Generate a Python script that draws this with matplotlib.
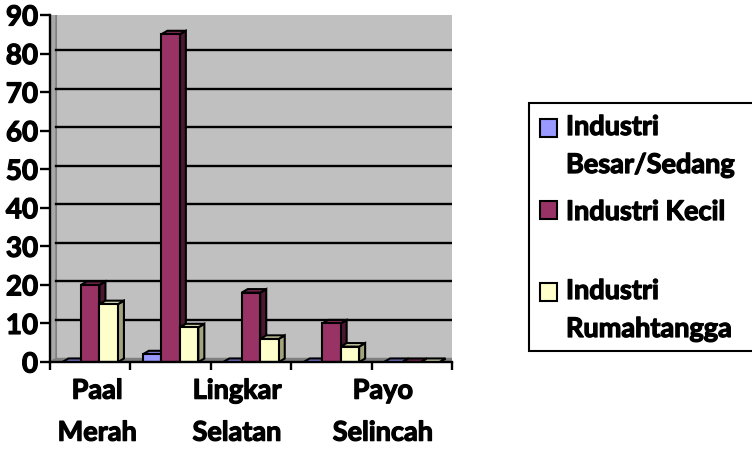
import matplotlib
matplotlib.use("Agg")
import matplotlib.pyplot as plt
from matplotlib import font_manager as fm
from matplotlib import patheffects as pe
from matplotlib.patches import Polygon, Rectangle
from matplotlib.transforms import IdentityTransform, ScaledTranslation
from matplotlib.lines import Line2D

# ---------------- data ----------------
categories = ["Paal Merah", "Talang Bakung", "Lingkar Selatan", "Eka Jaya", "Payo Selincah"]
tick_labels = ["Paal\nMerah", "", "Lingkar\nSelatan", "", "Payo\nSelincah"]
series_names = ["Industri\nBesar/Sedang", "Industri Kecil", "Industri\nRumahtangga"]
besar = [0, 2, 0, 0, 0]
kecil = [20, 85, 18, 10, 0]
rumah = [15, 9, 6, 4, 0]
yticks = list(range(0, 91, 10))

series = [besar, kecil, rumah]
front_c = ["#9999FF", "#993366", "#FFFFCC"]
side_c = ["#5f5fa8", "#4a1830", "#a3a37e"]
top_c = ["#7d7dd6", "#7a2952", "#d6d6aa"]

FS = 19.5
font_path = None
for fam in ["Lato", "Open Sans", "Noto Sans", "Liberation Sans"]:
    cands = [f for f in fm.fontManager.ttflist
             if f.name == fam and f.style == "normal"
             and (f.weight == 700 or f.weight == "bold")]
    cands.sort(key=lambda f: ("semi" in f.fname.lower() or "medium" in f.fname.lower(),
                              "bold" not in f.fname.lower()))
    if cands:
        font_path = cands[0].fname
        break

def fp(size):
    if font_path:
        return fm.FontProperties(fname=font_path, size=size)
    return fm.FontProperties(family="DejaVu Sans", weight="bold", size=size)

THICK = [pe.withStroke(linewidth=0.9, foreground="black")]

W, H = 752, 452
fig = plt.figure(figsize=(W / 100, H / 100), dpi=100)
L, R, B, T = 50, 452, 363, 16
ax = fig.add_axes([L / W, 1 - B / H, (R - L) / W, (B - T) / H])
ax.set_xlim(-0.5, 4.5)
ax.set_ylim(0, 90)
ax.patch.set_visible(False)
DX, DY = 6, 3.5
ident = IdentityTransform()

def disp(x, y):
    return ax.transData.transform((x, y))

# back wall, side wall, floor (display pixels)
x0d, y0d = disp(-0.5, 0)
x1d, y1d = disp(4.5, 90)
wall = Rectangle((x0d + DX, y0d + DY), x1d - x0d, y1d - y0d, transform=ident,
                 facecolor="#C0C0C0", edgecolor="#808080", lw=1.5, zorder=0)
ax.add_artist(wall)
sidewall = Polygon([(x0d, y0d), (x0d + DX, y0d + DY), (x0d + DX, y1d + DY), (x0d, y1d)],
                   closed=True, transform=ident, facecolor="#A8A8A8", edgecolor="#808080",
                   lw=1.0, zorder=0.5)
ax.add_artist(sidewall)
floor = Polygon([(x0d, y0d), (x1d, y0d), (x1d + DX, y0d + DY), (x0d + DX, y0d + DY)],
                closed=True, transform=ident, facecolor="#808080", edgecolor="#808080",
                lw=1.0, zorder=0.5)
ax.add_artist(floor)

for v in yticks[1:]:
    _, yv = disp(0, v)
    ax.add_line(Line2D([x0d + DX, x1d + DX], [yv + DY, yv + DY], transform=ident,
                       color="black", lw=1.7, zorder=1))

# bars
bw = 0.23
offsets = [-bw, 0, bw]
z = 2
for ci in range(len(categories)):
    for si, vals in enumerate(series):
        bars = ax.bar(ci + offsets[si], vals[ci], width=bw, color=front_c[si],
                      edgecolor="black", lw=1.5, zorder=z + 0.2)
        p = bars.patches[0]
        (bx0, by0) = disp(p.get_x(), 0)
        (bx1, by1) = disp(p.get_x() + p.get_width(), p.get_height())
        sidep = Polygon([(bx1, by0), (bx1 + DX, by0 + DY), (bx1 + DX, by1 + DY), (bx1, by1)],
                        closed=True, transform=ident, facecolor=side_c[si],
                        edgecolor="black", lw=1.5, zorder=z)
        topp = Polygon([(bx0, by1), (bx1, by1), (bx1 + DX, by1 + DY), (bx0 + DX, by1 + DY)],
                       closed=True, transform=ident, facecolor=top_c[si],
                       edgecolor="black", lw=1.5, zorder=z + 0.1)
        ax.add_artist(sidep)
        ax.add_artist(topp)
        z += 1

# axes
for s in ["top", "right"]:
    ax.spines[s].set_visible(False)
for s in ["left", "bottom"]:
    ax.spines[s].set_linewidth(1.7)
    ax.spines[s].set_zorder(100)
ax.set_yticks(yticks)
ax.set_yticklabels([str(v) for v in yticks], fontproperties=fp(FS + 0.5))
ax.tick_params(axis="y", direction="out", length=7, width=1.7, pad=1.5)
for lab in ax.get_yticklabels():
    lab.set_path_effects(THICK)

ax.set_xticks([i - 0.5 for i in range(len(categories) + 1)])
ax.set_xticklabels([])
ax.tick_params(axis="x", which="major", direction="out", length=5.5, width=1.7)
ax.set_xticks(range(len(categories)), minor=True)
ax.set_xticklabels(tick_labels, minor=True, fontproperties=fp(FS), linespacing=1.9)
ax.tick_params(axis="x", which="minor", length=0, pad=12)
label_shift_px = [7, 0, -14, 0, -29]
for lab, dxp in zip(ax.get_xticklabels(minor=True), label_shift_px):
    lab.set_transform(lab.get_transform() + ScaledTranslation(dxp / 100, 0, fig.dpi_scale_trans))
    lab.set_path_effects(THICK)

# legend (drawn in figure pixels)
leg_box = Rectangle((529, H - 352), 260, 248, transform=ident, facecolor="white",
                    edgecolor="black", lw=1.5)
fig.add_artist(leg_box)
first_baselines = [139, 221, 303]
LINE_GAP = 35
for name, col, bl in zip(series_names, front_c, first_baselines):
    fig.add_artist(Rectangle((540, H - (bl - 1)), 17, 18, transform=ident,
                             facecolor=col, edgecolor="black", lw=1.5))
    last_bl = bl + LINE_GAP * name.count("\n")
    fig.text(566 / W, 1 - last_bl / H, name, fontproperties=fp(FS),
             va="baseline", ha="left", linespacing=1.7, path_effects=THICK)

fig.savefig("out.png", dpi=100)
